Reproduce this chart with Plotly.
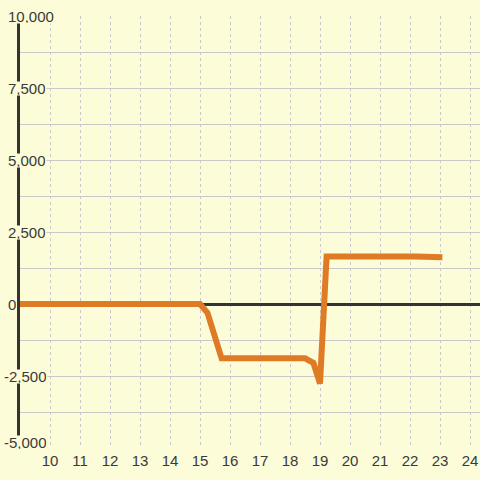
import plotly.graph_objects as go

# data
x_vals = [9, 15.0, 15.25, 15.72, 18.5, 18.78, 19.0, 19.22, 22.2, 23.08]
y_vals = [0, 0, -310, -1885, -1885, -2040, -2760, 1650, 1650, 1620]

x_ticks = [10, 11, 12, 13, 14, 15, 16, 17, 18, 19, 20, 21, 22, 23, 24]
y_grid = [-5000, -3750, -2500, -1250, 0, 1250, 2500, 3750, 5000, 6250, 7500, 8750, 10000]
y_labels = [-5000, -2500, 0, 2500, 5000, 7500, 10000]

BG = "#fcfcd8"
GRID = "#c9c9c9"
TXT = "#3a3a3a"
FONT = "Liberation Sans, Arial, sans-serif"

fig = go.Figure()
fig.add_trace(go.Scatter(
    x=x_vals, y=y_vals, mode="lines",
    line=dict(color="#df7b25", width=6),
    hoverinfo="skip", showlegend=False,
))

ymin, ymax = min(y_labels), max(y_labels)
annotations = []
for v in y_labels:
    annotations.append(dict(
        xref="paper", yref="y", x=-13 / 460, y=v,
        text=f"{v:,}", showarrow=False, xanchor="left", yanchor="middle",
        font=dict(family=FONT, size=15, color=TXT),
        bgcolor=BG, borderpad=0, height=13,
        xshift=-4 if v < 0 else 0,
        yshift=6 if v == ymin else 0,
    ))

fig.update_layout(
    width=480, height=480,
    margin=dict(l=20, r=0, t=16, b=32),
    paper_bgcolor=BG, plot_bgcolor=BG,
    font=dict(family=FONT, size=15, color=TXT),
    annotations=annotations,
    xaxis=dict(
        range=[9, 9 + 460 / 30],
        tickvals=x_ticks, ticktext=[str(t) for t in x_ticks],
        showgrid=True, gridcolor=GRID, gridwidth=1, griddash="dot",
        zeroline=False, showline=False, ticks="",
        tickfont=dict(family=FONT, size=15, color=TXT),
        ticklabelstandoff=2,
    ),
    yaxis=dict(
        range=[ymin, ymax],
        tickvals=y_grid, showticklabels=False,
        showgrid=True, gridcolor=GRID, gridwidth=1,
        zeroline=True, zerolinecolor="#333333", zerolinewidth=3,
        showline=True, linecolor="#333333", linewidth=3, ticks="",
    ),
)

fig.write_html(
    "out.html",
    config={"displayModeBar": False},
    post_script="document.body.style.margin='0';document.body.style.background='" + BG + "';",
)
